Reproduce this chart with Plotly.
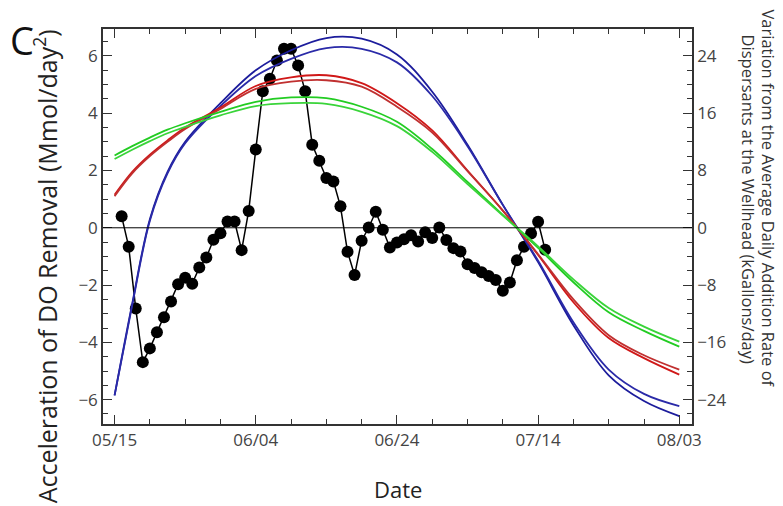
import datetime as dt
import pandas as pd
import plotly.graph_objects as go

# ---------------- data ----------------
start_date = "2010-05-16"
do_accel = [0.40, -0.66, -2.82, -4.69, -4.21, -3.65, -3.12, -2.57, -1.97, -1.74,
            -1.95, -1.39, -1.04, -0.42, -0.19, 0.22, 0.22, -0.78, 0.59, 2.73,
            4.77, 5.20, 5.84, 6.25, 6.25, 5.67, 4.77, 2.90, 2.34, 1.74,
            1.62, 0.75, -0.84, -1.65, -0.45, 0.01, 0.56, -0.07, -0.69, -0.51,
            -0.40, -0.26, -0.48, -0.16, -0.36, 0.01, -0.43, -0.71, -0.83, -1.27,
            -1.40, -1.55, -1.68, -1.82, -2.20, -1.91, -1.13, -0.66, -0.20, 0.21,
            -0.77]
do_dates = pd.date_range(start_date, periods=len(do_accel), freq="D")

# dispersant curves (kGallons/day), sampled at day offsets from 05/15
curve_days = [0, 2.5, 5, 7.5, 10, 15, 20, 25, 30, 35, 40, 45, 50, 55, 60, 65, 70, 75, 80]
blue_1 = [-23.4, -10.6, 1.2, 7.8, 12.0, 17.4, 22.0, 24.8, 26.5, 26.4, 24.2, 19.0, 11.6, 3.2, -4.8, -13.6, -20.6, -24.2, -26.3]
blue_2 = [-23.4, -10.8, 1.0, 7.6, 11.8, 17.0, 21.2, 23.6, 25.1, 25.0, 23.1, 18.4, 11.4, 3.2, -4.6, -13.2, -19.8, -23.2, -24.9]
red_1 = [4.6, 7.8, 10.2, 12.2, 14.0, 16.8, 19.8, 21.0, 21.3, 20.2, 17.4, 13.6, 8.0, 2.4, -3.8, -10.4, -15.4, -18.2, -20.5]
red_2 = [4.4, 7.6, 10.0, 12.0, 13.8, 16.6, 19.4, 20.4, 20.6, 19.7, 16.9, 13.3, 7.9, 2.4, -3.7, -10.0, -15.0, -17.8, -19.8]
green_1 = [10.1, 11.4, 12.6, 13.7, 14.6, 16.2, 17.6, 18.2, 18.1, 16.9, 14.8, 11.0, 6.4, 1.8, -2.8, -7.6, -11.8, -14.4, -16.6]
green_2 = [9.6, 10.9, 12.1, 13.2, 14.1, 15.7, 17.0, 17.4, 17.3, 16.2, 14.2, 10.6, 6.1, 1.7, -2.6, -7.2, -11.2, -13.8, -15.9]

tick_dates = ["2010-05-15", "2010-06-04", "2010-06-24", "2010-07-14", "2010-08-03"]
tick_labels = ["05/15", "06/04", "06/24", "07/14", "08/03"]
left_ticks = [-6, -4, -2, 0, 2, 4, 6]
right_ticks = [-24, -16, -8, 0, 8, 16, 24]

# ---------------- figure ----------------
base = dt.datetime(2010, 5, 15)
curve_dates = [base + dt.timedelta(days=d) for d in curve_days]

fig = go.Figure()

curves = [
    (blue_1, "#1c1c9c"), (blue_2, "#2a2aa8"),
    (red_1, "#d01818"), (red_2, "#c03030"),
    (green_1, "#22cc22"), (green_2, "#3ad43a"),
]
for vals, col in curves:
    fig.add_trace(go.Scatter(x=curve_dates, y=vals, yaxis="y2", mode="lines",
                             line=dict(color=col, width=1.8, shape="spline", smoothing=1.0),
                             showlegend=False, hoverinfo="skip"))

fig.add_trace(go.Scatter(x=do_dates, y=do_accel, mode="lines+markers",
                         line=dict(color="black", width=1.5),
                         marker=dict(color="black", size=12),
                         showlegend=False))

tick_font = dict(family="Open Sans", size=17, color="#444")
axis_line = "#333"

# the page body adds an 8px offset, so the figure is drawn 8px smaller
fig.update_layout(
    width=775, height=498,
    margin=dict(l=95, r=91, t=21, b=82, autoexpand=False),
    paper_bgcolor="white", plot_bgcolor="white",
    xaxis=dict(
        type="date",
        range=[base - dt.timedelta(days=1.64), base + dt.timedelta(days=81.8)],
        tickvals=tick_dates, ticktext=tick_labels,
        ticks="inside", ticklen=9, tickwidth=1.2, tickcolor=axis_line,
        minor=dict(dtick=5 * 86400000, tick0="2010-05-15", ticks="inside", ticklen=5,
                   tickcolor=axis_line, tickwidth=1.2, showgrid=False),
        showline=True, linecolor=axis_line, linewidth=1.5, mirror="ticks",
        showgrid=False, zeroline=False, tickfont=tick_font,
    ),
    yaxis=dict(
        range=[-6.85, 6.94], tickvals=left_ticks,
        ticks="inside", ticklen=9, tickwidth=1.2, tickcolor=axis_line,
        minor=dict(dtick=0.5, tick0=0, ticks="inside", ticklen=5,
                   tickcolor=axis_line, tickwidth=1.2, showgrid=False),
        showline=True, linecolor=axis_line, linewidth=1.5,
        showgrid=False, zeroline=False, tickfont=tick_font,
    ),
    yaxis2=dict(
        range=[-27.4, 27.76], tickvals=right_ticks, overlaying="y", side="right",
        ticks="inside", ticklen=9, tickwidth=1.2, tickcolor=axis_line,
        minor=dict(dtick=2, tick0=0, ticks="inside", ticklen=5,
                   tickcolor=axis_line, tickwidth=1.2, showgrid=False),
        showline=True, linecolor=axis_line, linewidth=1.5,
        showgrid=False, zeroline=False, tickfont=tick_font,
    ),
)

fig.add_shape(type="line", xref="paper", yref="y", x0=0, x1=1, y0=0, y1=0,
              line=dict(color="black", width=1))

def note(text, x, y, size, angle=0, color="#222"):
    fig.add_annotation(text=text, xref="paper", yref="paper", x=x, y=y,
                       xanchor="center", yanchor="middle", textangle=angle,
                       showarrow=False, font=dict(family="Open Sans", size=size, color=color))

note("C", -0.137, 0.972, 38, color="#111")
note("Acceleration of DO Removal (Mmol/day<sup>2</sup>)", -0.098, 0.40, 25, angle=-90)
note("Variation from the Average Daily Addition Rate of", 1.1296, 0.57, 16.5, angle=90, color="#333")
note("Dispersants at the Wellhead (kGallons/day)", 1.0956, 0.57, 16.5, angle=90, color="#333")
note("Date", 0.501, -0.165, 22)

fig.write_html("out.html")
